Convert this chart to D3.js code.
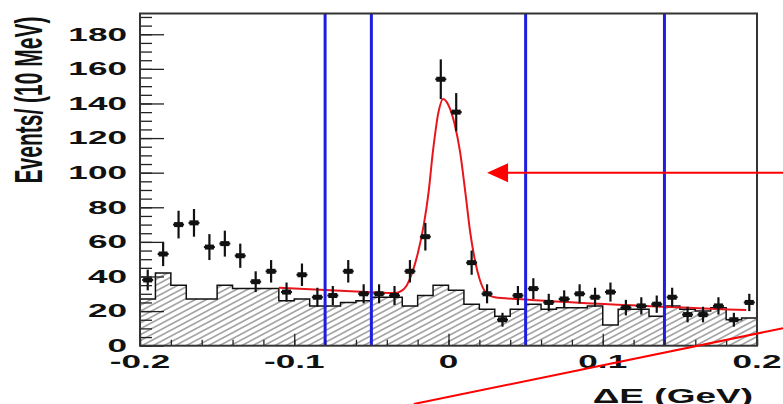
<!DOCTYPE html>
<html>
<head>
<meta charset="utf-8">
<script src="https://cdn.jsdelivr.net/npm/d3@7"></script>
<style>
  body { margin: 0; background: #fff; }
  svg { display: block; }
  text { font-family: "Liberation Sans", Arial, sans-serif; font-weight: bold; fill: #111; }
</style>
</head>
<body>
<script>
const width = 783,
	height = 404

// bins of 10 MeV from -0.2 to 0.2 GeV
const binEdges = d3.range(41).map(i => -0.2 + i * 0.01)

// data points (events per bin) and their error bars
const dataCounts = [38, 53, 70, 71, 57, 59, 52, 37, 43, 31,
	41, 28, 29, 43, 30, 30, 29, 43, 63, 154,
	135, 48, 30, 15, 29, 33, 25, 27, 30, 28,
	31, 22, 23, 24, 28, 18, 18, 23, 15, 25]
const dataErrors = [6, 7, 8, 8, 7.5, 7.5, 7, 6, 6.5, 5.5,
	6.5, 5.5, 5.5, 6.5, 5.5, 5.5, 5.5, 6.5, 8, 11.5,
	11, 7, 5.5, 4, 5.5, 6, 5, 5, 5.5, 5.5,
	5.5, 4.5, 5, 5, 5.5, 4.5, 4.5, 5, 4, 5]

// hatched background histogram
const bkgCounts = [27, 42, 35, 27, 27, 35, 33, 33, 33, 26,
	27, 23, 23, 25, 26, 28, 28, 23, 29, 35,
	32, 24, 21, 17, 21, 24, 21, 22, 22, 23,
	12, 21, 21, 17, 23, 21, 20, 22, 15, 16]

// fit curve
const fitX = [-0.11, -0.05, -0.035, -0.030, -0.027, -0.024, -0.020, -0.016, -0.013, -0.010, -0.0065,
	-0.0035, 0.000, 0.004, 0.0075, 0.011, 0.014, 0.017, 0.020, 0.024, 0.030, 0.05, 0.193]
const fitY = [33.5, 30.9, 30.4, 32, 35, 41, 53, 70, 88, 113, 135,
	142.6, 139, 128, 112, 88, 66, 50, 39, 31, 28, 26.7, 20.6]

// signal / sideband boundaries
const cutLines = [-0.08, -0.05, 0.05, 0.14]

const yMajorTicks = [0, 20, 40, 60, 80, 100, 120, 140, 160, 180]
const xMajorTicks = [-0.2, -0.1, 0, 0.1, 0.2]
const xTickLabels = ["-0.2", "-0.1", "0", "0.1", "0.2"]

const STRETCH = 1.85 // the original is squeezed wide

const x = d3.scaleLinear().domain([-0.2, 0.2]).range([140, 757])
const y = d3.scaleLinear().domain([0, 192]).range([345.7, 13.5])

const svg = d3.select("body")
	.append("svg")
	.attr("width", width)
	.attr("height", height)

// hatch pattern
svg.append("defs")
	.append("pattern")
	.attr("id", "hatch")
	.attr("patternUnits", "userSpaceOnUse")
	.attr("width", 10)
	.attr("height", 5.2)
	.attr("patternTransform", "rotate(-28)")
	.append("line")
	.attr("x1", 0).attr("x2", 10)
	.attr("y1", 2.6).attr("y2", 2.6)
	.attr("stroke", "#555")
	.attr("stroke-width", 0.9)

const bins = bkgCounts.map((v, i) => ({ x0: binEdges[i], x1: binEdges[i + 1], v }))

// histogram fill and outline
const area = d3.area()
	.curve(d3.curveStepAfter)
	.x(d => x(d[0]))
	.y0(y(0))
	.y1(d => y(d[1]))
const stepPoints = bins.map(b => [b.x0, b.v]).concat([[0.2, bins[bins.length - 1].v]])

svg.append("path")
	.attr("d", area(stepPoints))
	.attr("fill", "url(#hatch)")

svg.append("path")
	.attr("d", d3.line().curve(d3.curveStepAfter).x(d => x(d[0])).y(d => y(d[1]))(stepPoints))
	.attr("fill", "none")
	.attr("stroke", "#111")
	.attr("stroke-width", 1.5)

// fit
svg.append("path")
	.datum(fitX.map((v, i) => [v, fitY[i]]))
	.attr("d", d3.line().curve(d3.curveMonotoneX).x(d => x(d[0])).y(d => y(d[1])))
	.attr("fill", "none")
	.attr("stroke", "#e8161c")
	.attr("stroke-width", 2)

// data points
const pts = svg.append("g").selectAll("g")
	.data(dataCounts.map((v, i) => ({ c: (binEdges[i] + binEdges[i + 1]) / 2, v, e: dataErrors[i] })))
	.join("g")

pts.append("line")
	.attr("x1", d => x(d.c)).attr("x2", d => x(d.c))
	.attr("y1", d => y(d.v - d.e)).attr("y2", d => y(d.v + d.e))
	.attr("stroke", "#111")
	.attr("stroke-width", 2.2)

pts.append("line")
	.attr("x1", d => x(d.c) - 5.5).attr("x2", d => x(d.c) + 5.5)
	.attr("y1", d => y(d.v)).attr("y2", d => y(d.v))
	.attr("stroke", "#111")
	.attr("stroke-width", 2)

pts.append("rect")
	.attr("x", d => x(d.c) - 4.5)
	.attr("y", d => y(d.v) - 2.5)
	.attr("width", 9)
	.attr("height", 5)
	.attr("fill", "#111")

// blue cut lines
svg.append("g").selectAll("line")
	.data(cutLines)
	.join("line")
	.attr("x1", d => x(d)).attr("x2", d => x(d))
	.attr("y1", y.range()[0]).attr("y2", y.range()[1])
	.attr("stroke", "#1e1ee0")
	.attr("stroke-width", 3)

// axes: ticks inside the frame
const yAxisMajor = d3.axisLeft(y).tickValues(yMajorTicks).tickSize(-24).tickFormat("")
const yAxisMinor = d3.axisLeft(y).tickValues(d3.range(0, 192, 5)).tickSize(-12).tickFormat("")
const xAxisMajor = d3.axisBottom(x).tickValues(xMajorTicks).tickSize(-12).tickFormat("")
const xAxisMinor = d3.axisBottom(x).tickValues(d3.range(-0.2, 0.2001, 0.02)).tickSize(-6).tickFormat("")

const axG = svg.append("g")
axG.append("g").attr("transform", `translate(${x.range()[0]},0)`).call(yAxisMinor)
axG.append("g").attr("transform", `translate(${x.range()[0]},0)`).call(yAxisMajor)
axG.append("g").attr("transform", `translate(0,${y.range()[0]})`).call(xAxisMinor)
axG.append("g").attr("transform", `translate(0,${y.range()[0]})`).call(xAxisMajor)
axG.selectAll(".domain").remove()
axG.selectAll(".tick line").attr("stroke", "#222").attr("stroke-width", 1.3)

// frame
svg.append("rect")
	.attr("x", x.range()[0])
	.attr("y", y.range()[1])
	.attr("width", x.range()[1] - x.range()[0])
	.attr("height", y.range()[0] - y.range()[1])
	.attr("fill", "none")
	.attr("stroke", "#333")
	.attr("stroke-width", 2)

// tick labels
svg.append("g").selectAll("text")
	.data(yMajorTicks)
	.join("text")
	.attr("transform", d => `translate(127,${y(d) - 0.5}) scale(${STRETCH},1)`)
	.attr("text-anchor", "end")
	.attr("dy", "0.36em")
	.style("font-size", "19px")
	.text(d => d)

svg.append("g").selectAll("text")
	.data(xMajorTicks)
	.join("text")
	.attr("transform", d => `translate(${x(d)},367.5) scale(${STRETCH},1)`)
	.attr("text-anchor", "middle")
	.style("font-size", "19px")
	.text((d, i) => xTickLabels[i])

// axis titles
svg.append("text")
	.attr("transform", `translate(753,403) scale(${STRETCH},1)`)
	.attr("text-anchor", "end")
	.style("font-size", "20px")
	.text("ΔE (GeV)")

svg.append("text")
	.attr("transform", `translate(42,100) scale(${STRETCH},1) rotate(-90)`)
	.attr("text-anchor", "middle")
	.style("font-size", "21px")
	.text("Events/ (10 MeV)")

// annotation arrows (red)
const arrowTip = [0.025, 100]
svg.append("line")
	.attr("x1", x(arrowTip[0]) + 20).attr("x2", width)
	.attr("y1", y(arrowTip[1])).attr("y2", y(arrowTip[1]))
	.attr("stroke", "#ff0000")
	.attr("stroke-width", 2)
svg.append("path")
	.attr("d", `M${x(arrowTip[0])},${y(arrowTip[1])} l21,-9.5 l0,19 z`)
	.attr("fill", "#ff0000")

svg.append("line")
	.attr("x1", x(-0.0225)).attr("y1", y(-33.7))
	.attr("x2", width).attr("y2", y(10.1))
	.attr("stroke", "#ff0000")
	.attr("stroke-width", 2)
</script>
</body>
</html>
